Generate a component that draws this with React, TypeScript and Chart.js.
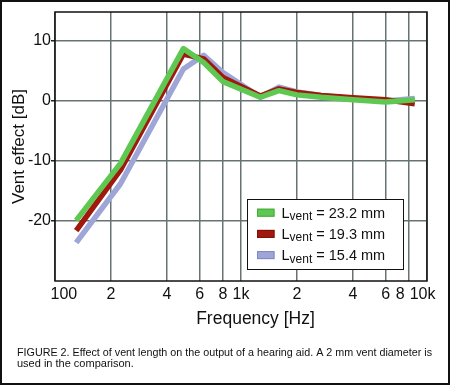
import React, { useEffect, useRef } from "react";
import { Chart, registerables } from "chart.js";

Chart.register(...registerables);

// ---- data ----
const FREQ_HZ = [130, 225, 490, 630, 800, 1270, 1600, 2000, 2700, 4000, 6000, 8600];
const VENT_23_2 = [-19.9, -10.4, 8.7, 6.4, 3.2, 0.6, 1.7, 1.0, 0.6, 0.2, -0.2, 0.2];
const VENT_19_3 = [-21.6, -11.5, 7.8, 7.0, 3.9, 0.8, 2.0, 1.4, 0.9, 0.5, 0.2, -0.5];
const VENT_15_4 = [-23.6, -13.8, 5.3, 7.6, 4.7, 0.6, 2.3, 1.5, 0.9, 0.4, 0.0, 0.4];
const SERIES_VALUES = ["= 23.2 mm", "= 19.3 mm", "= 15.4 mm"];
const X_TICKS = [100, 200, 400, 600, 800, 1000, 2000, 4000, 6000, 8000, 10000];
const X_TICK_LABELS = ["    100", "2", "4", "6", "8", "1k", "2", "4", "6", "8    ", "10k  "];
const Y_TICKS = [-20, -10, 0, 10];
const X_TITLE = "Frequency [Hz]";
const Y_TITLE = "Vent effect [dB]";
const CAPTION = [
  "FIGURE 2. Effect of vent length on the output of a hearing aid. A 2 mm vent diameter is",
  "used in the comparison.",
];

const FONT = '"Liberation Sans", Arial, sans-serif';
const GRID = "#687272";
const COLORS = ["#5fc852", "#a0190f", "#9ea6d8"];
const SWATCH_EDGE = ["#4aa83e", "#7e1009", "#8188c0"];

const decorPlugin = {
  id: "decor",
  beforeDatasetsDraw(chart: any) {
    const { ctx, chartArea: a } = chart;
    ctx.save();
    ctx.strokeStyle = "#111";
    ctx.lineWidth = 1.5;
    ctx.strokeRect(a.left, a.top, a.right - a.left, a.bottom - a.top);
    ctx.restore();
  },
  afterDraw(chart: any) {
    const { ctx, chartArea: a } = chart;
    ctx.save();
    // legend
    const bx = a.right - 24;
    const by = a.bottom - 12;
    const bw = 156;
    const bh = 70;
    const left = bx - bw;
    const top = by - bh;
    ctx.fillStyle = "#fff";
    ctx.fillRect(left, top, bw, bh);
    ctx.strokeStyle = "#111";
    ctx.lineWidth = 1;
    ctx.strokeRect(left + 0.5, top + 0.5, bw, bh);
    chart.data.datasets.forEach((ds: any, i: number) => {
      const cy = top + 13.7 + i * 21.2;
      ctx.fillStyle = ds.borderColor;
      ctx.fillRect(left + 10, cy - 4, 17.5, 8);
      ctx.strokeStyle = SWATCH_EDGE[i];
      ctx.lineWidth = 1;
      ctx.strokeRect(left + 10.5, cy - 3.5, 16.5, 7);
      ctx.fillStyle = "#111";
      ctx.textBaseline = "alphabetic";
      ctx.textAlign = "left";
      let tx = left + 34.5;
      const base = cy + 5;
      ctx.font = `14.5px ${FONT}`;
      ctx.fillText("L", tx, base);
      tx += ctx.measureText("L").width;
      ctx.font = `12px ${FONT}`;
      ctx.fillText("vent", tx, base + 2.5);
      tx += ctx.measureText("vent").width;
      ctx.font = `14.5px ${FONT}`;
      ctx.fillText(" " + SERIES_VALUES[i], tx, base);
    });
    // axis titles
    ctx.fillStyle = "#111";
    ctx.font = `17.5px ${FONT}`;
    ctx.textAlign = "center";
    ctx.textBaseline = "alphabetic";
    ctx.fillText(X_TITLE, (a.left + a.right) / 2 + 14.5, 323.5);
    ctx.save();
    ctx.translate(23.5, (a.top + a.bottom) / 2);
    ctx.rotate(-Math.PI / 2);
    ctx.font = `17px ${FONT}`;
    ctx.fillText(Y_TITLE, 0, 0);
    ctx.restore();
    // caption
    ctx.font = `11px ${FONT}`;
    ctx.textAlign = "left";
    ctx.fillStyle = "#111";
    ctx.fillText(CAPTION[0], 17, 356, 415);
    ctx.fillText(CAPTION[1], 17, 367);
    // outer frame
    ctx.strokeStyle = "#111";
    ctx.lineWidth = 2;
    ctx.strokeRect(1, 1, 448, 383);
    ctx.restore();
  },
};

export default function App() {
  const ref = useRef<HTMLCanvasElement>(null);
  useEffect(() => {
    document.body.style.margin = "0";
    const mk = (vals: number[]) => FREQ_HZ.map((f, i) => ({ x: f, y: vals[i] }));
    const chart = new Chart(ref.current as HTMLCanvasElement, {
      type: "line",
      data: {
        datasets: [
          { label: "23.2", data: mk(VENT_23_2), borderColor: COLORS[0], backgroundColor: COLORS[0] },
          { label: "19.3", data: mk(VENT_19_3), borderColor: COLORS[1], backgroundColor: COLORS[1] },
          { label: "15.4", data: mk(VENT_15_4), borderColor: COLORS[2], backgroundColor: COLORS[2] },
        ].map((d) => ({
          ...d,
          borderWidth: 5.5,
          pointRadius: 0,
          borderJoinStyle: "round" as const,
          borderCapStyle: "butt" as const,
          tension: 0,
          fill: false,
        })),
      },
      options: {
        animation: false,
        responsive: false,
        devicePixelRatio: 1,
        layout: { padding: { top: 12, right: 23, left: 0, bottom: 0 } },
        plugins: { legend: { display: false }, tooltip: { enabled: false } },
        scales: {
          x: {
            type: "logarithmic",
            min: 100,
            max: 10000,
            afterBuildTicks: (s: any) => {
              s.ticks = X_TICKS.map((v) => ({ value: v }));
            },
            afterFit: (s: any) => {
              s.height = 104;
            },
            grid: { color: GRID, lineWidth: 1.5, drawTicks: false },
            border: { display: false },
            ticks: {
              autoSkip: false,
              maxRotation: 0,
              padding: 4,
              color: "#111",
              font: { family: FONT, size: 16 },
              callback: (_v: any, i: number) => X_TICK_LABELS[i],
            },
          },
          y: {
            type: "linear",
            min: -30,
            max: 14.8,
            afterBuildTicks: (s: any) => {
              s.ticks = Y_TICKS.map((v) => ({ value: v }));
            },
            afterFit: (s: any) => {
              s.width = 55;
            },
            grid: { color: GRID, lineWidth: 1.5, tickLength: 4, tickColor: "#222" },
            border: { display: false },
            ticks: {
              padding: 0,
              color: "#111",
              font: { family: FONT, size: 16 },
              callback: (v: any) => String(v),
            },
          },
        },
      },
      plugins: [decorPlugin],
    } as any);
    return () => chart.destroy();
  }, []);
  return (
    <div style={{ width: 450, height: 385, position: "relative" }}>
      <canvas ref={ref} width={450} height={385} style={{ display: "block", width: 450, height: 385 }} />
    </div>
  );
}
